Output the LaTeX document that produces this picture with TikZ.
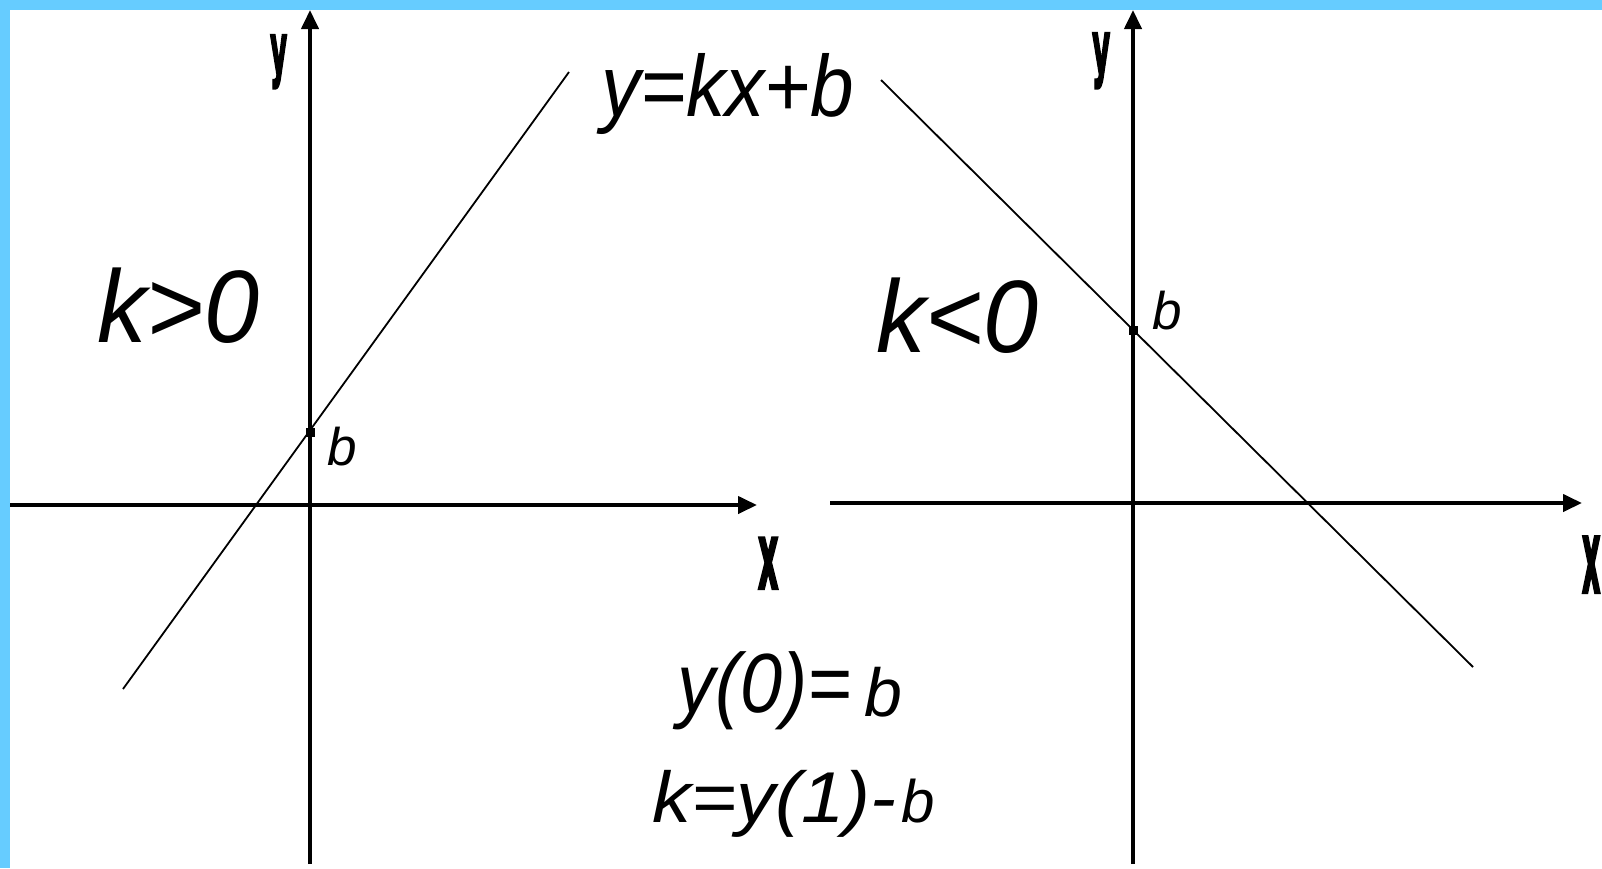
\documentclass[tikz,border=0pt]{standalone}
\usepackage{fontspec}
\setmainfont{Liberation Sans}
\newfontfamily\axfont{DejaVu Sans}[BoldFeatures={FakeBold=4}]
\usetikzlibrary{arrows.meta}
\definecolor{frameblue}{HTML}{66CCFF}
\newcommand{\fs}[1]{\fontsize{#1}{#1}\selectfont}
\begin{document}
\begin{tikzpicture}[x=1pt,y=-1pt,
  axis/.style={line width=4pt,-{Triangle[length=19pt,width=17pt]}},
  graphline/.style={line width=1.8pt},
  lbl/.style={inner sep=0pt,anchor=base west,font=\itshape},
  axlbl/.style={inner sep=0pt,anchor=north west,font=\axfont\bfseries},
  bdot/.style={fill=black,inner sep=0pt,minimum size=9pt}]
\useasboundingbox (0,0) rectangle (1602,868);
\fill[white] (0,0) rectangle (1602,868);
\fill[frameblue] (0,0) rectangle (1602,10);
\fill[frameblue] (0,0) rectangle (10,868);
% coordinates
\coordinate (Lyb) at (310,864);
\coordinate (Lyt) at (310,10);
\coordinate (Lxl) at (10,505);
\coordinate (Lxr) at (757,505);
\coordinate (Ryb) at (1133,864);
\coordinate (Ryt) at (1133,10);
\coordinate (Rxl) at (830,503);
\coordinate (Rxr) at (1582,503);
\coordinate (La) at (123,689);
\coordinate (Lb) at (569,72);
\coordinate (Ra) at (881,80);
\coordinate (Rb) at (1473,667);
% axes
\draw[axis] (Lyb) -- (Lyt);
\draw[axis] (Lxl) -- (Lxr);
\draw[axis] (Ryb) -- (Ryt);
\draw[axis] (Rxl) -- (Rxr);
% graphs
\draw[graphline] (La) -- (Lb);
\draw[graphline] (Ra) -- (Rb);
\node[bdot] (d1) at (310,432) {};
\node[bdot] (d2) at (1133,330) {};
% axis labels
\node[axlbl] (ly) at (270,35) {\resizebox*{17pt}{53pt}{y}};
\node[axlbl] (ry) at (1092,33) {\resizebox*{18pt}{55pt}{y}};
\node[axlbl] (lx) at (758,538) {\resizebox*{20pt}{50pt}{x}};
\node[axlbl] (rx) at (1582,537) {\resizebox*{18pt}{55pt}{x}};
% texts
\node[lbl] (eq) at (601,116) {\scalebox{0.9}[1]{\fs{87}y=kx+b}};
\node[lbl] (kp) at (97,342) {\scalebox{0.96}[1]{\fs{103}k>0}};
\node[lbl] (kn) at (876,352) {\scalebox{0.96}[1]{\fs{103}k<0}};
\node[lbl] (b1) at (327,465) {\fs{53}b};
\node[lbl] (b2) at (1152,329) {\fs{53}b};
\node[lbl] (y0) at (677,712) {\scalebox{0.9}[1]{\fs{84}y(0)=}};
\node[lbl] (y0b) at (864,716) {\fs{68}b};
\node[lbl] (k1) at (652,822) {\scalebox{1.08}[1]{\fs{72}k=y(1)-}};
\node[lbl] (k1b) at (901,822) {\fs{60}b};
\end{tikzpicture}
\end{document}
